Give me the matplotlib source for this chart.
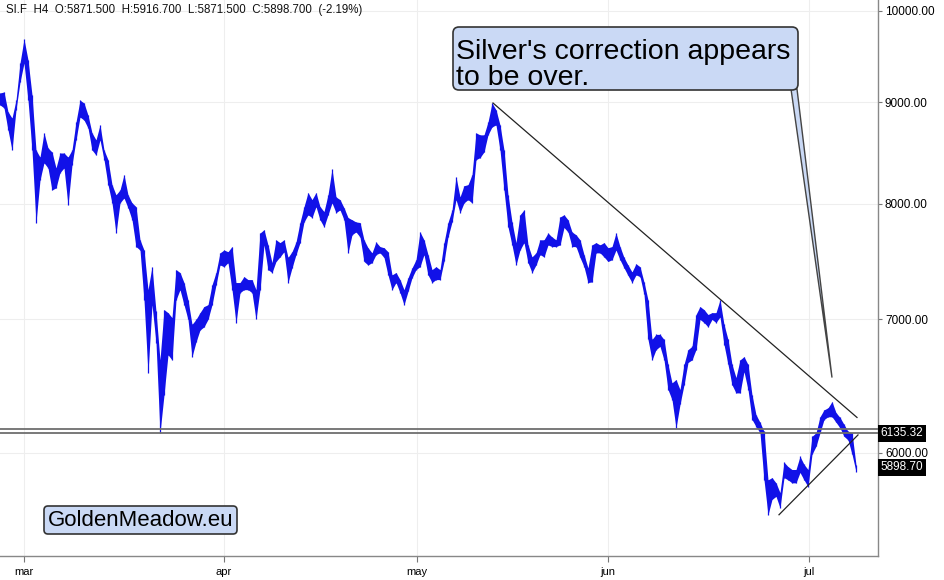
import matplotlib
matplotlib.use("Agg")
import matplotlib.pyplot as plt
import numpy as np
from matplotlib.patches import FancyBboxPatch, Polygon
from matplotlib.ticker import FixedLocator, FuncFormatter, NullLocator
from matplotlib.transforms import IdentityTransform

plt.rcParams["font.family"] = ["Liberation Sans", "DejaVu Sans"]

W, H = 945, 580

HEADER = "SI.F  H4  O:5871.500  H:5916.700  L:5871.500  C:5898.700  (-2.19%)"

# ─── PRICE DATA (one sample per ~2.5 bars of 4H) ─────────────────────────────
BAR_HI = [
    9095, 9105, 8900, 8835, 9020, 9415, 9680, 9450, 9075, 8515,
    8445, 8685, 8535, 8495, 8340, 8485, 8485, 8445, 8515, 8795,
    9020, 8990, 8865, 8685, 8615, 8765, 8515, 8420, 8180, 8085,
    8130, 8275, 8085, 8010, 7975, 7675, 7585, 7245, 7440, 7065,
    6680, 7080, 7055, 7015, 7415, 7390, 7305, 7160, 6960, 7000,
    7055, 7105, 7120, 7285, 7390, 7560, 7585, 7570, 7615, 7305,
    7305, 7355, 7330, 7330, 7245, 7735, 7765, 7630, 7475, 7675,
    7650, 7675, 7520, 7570, 7655, 7830, 7975, 8105, 8040, 8105,
    7975, 7930, 8085, 8330, 8065, 8040, 7965, 7875, 7855, 7835,
    7830, 7675, 7605, 7560, 7655, 7615, 7605, 7570, 7370, 7390,
    7330, 7245, 7345, 7430, 7500, 7745, 7675, 7545, 7415, 7440,
    7415, 7650, 7830, 7945, 8255, 8065, 8170, 8180, 8275, 8685,
    8665, 8665, 8795, 8990, 8920, 8765, 8515, 8085, 7835, 7650,
    7900, 7945, 7630, 7525, 7560, 7675, 7675, 7735, 7700, 7675,
    7880, 7900, 7855, 7745, 7720, 7675, 7545, 7430, 7630, 7650,
    7630, 7650, 7605, 7615, 7735, 7615, 7520, 7455, 7395, 7465,
    7440, 7310, 7160, 6840, 6880, 6880, 6840, 6645, 6505, 6530,
    6455, 6645, 6760, 6785, 7040, 7105, 7080, 7040, 7055, 7055,
    7160, 6960, 6840, 6645, 6545, 6680, 6705, 6645, 6415, 6270,
    6215, 6150, 5815, 5830, 5795, 5730, 5935, 5905, 5885, 5885,
    5975, 5920, 5885, 6115, 6140, 6255, 6305, 6320, 6365, 6285,
    6250, 6200, 6150, 6140, 5917,
]
BAR_LO = [
    8970, 8940, 8715, 8515, 8920, 9210, 9415, 9020, 8515, 7830,
    8225, 8390, 8340, 8130, 8150, 8295, 8340, 7990, 8370, 8615,
    8845, 8815, 8735, 8515, 8465, 8615, 8420, 8180, 8010, 7735,
    8010, 8055, 7965, 7855, 7615, 7585, 7160, 6580, 7120, 6815,
    6140, 6415, 6720, 6680, 7160, 7245, 7120, 7000, 6705, 6820,
    6915, 6940, 7000, 7120, 7285, 7455, 7440, 7475, 7245, 6975,
    7220, 7245, 7245, 7220, 7000, 7245, 7630, 7415, 7390, 7485,
    7525, 7570, 7305, 7430, 7545, 7650, 7835, 7900, 7875, 7975,
    7855, 7790, 7900, 8010, 7920, 7945, 7855, 7560, 7720, 7745,
    7700, 7485, 7455, 7475, 7545, 7560, 7520, 7370, 7245, 7305,
    7220, 7120, 7230, 7345, 7415, 7440, 7545, 7370, 7305, 7330,
    7330, 7485, 7700, 7835, 8040, 7920, 8010, 8040, 8010, 8420,
    8440, 8495, 8665, 8745, 8765, 8515, 8130, 7790, 7630, 7455,
    7585, 7650, 7475, 7390, 7455, 7545, 7525, 7630, 7615, 7615,
    7630, 7785, 7745, 7615, 7615, 7520, 7440, 7305, 7310, 7560,
    7560, 7525, 7485, 7500, 7585, 7500, 7430, 7365, 7305, 7370,
    7355, 7205, 6840, 6680, 6760, 6785, 6680, 6455, 6380, 6175,
    6345, 6490, 6660, 6680, 6760, 7000, 6975, 6940, 7000, 6975,
    7020, 6800, 6645, 6490, 6430, 6430, 6590, 6455, 6235, 6185,
    6140, 5815, 5585, 5685, 5705, 5630, 5830, 5815, 5795, 5795,
    5865, 5815, 5770, 5990, 6045, 6140, 6235, 6255, 6255, 6215,
    6175, 6115, 6090, 5990, 5871,
]

MONTHS = ["mar", "apr", "may", "jun", "jul"]
MONTH_BAR = [5.9, 56, 104.25, 152, 202.25]

Y_TICKS = [6000, 7000, 8000, 9000, 10000]
SUPPORT = [6170.0, 6135.32]
LAST_CLOSE = 5898.70

# hand-drawn trend lines (bar index, price)
DOWN_TREND = ([123.25, 214.25], [8990, 6250])
UP_TREND = ([194.75, 214.5], [5585, 6125])
CALLOUT_TARGET = (208, 6545)

BLUE = "#1111e8"
BOX_FILL = "#cad9f5"

bars = np.arange(len(BAR_HI))

fig = plt.figure(figsize=(W / 100, H / 100), dpi=100)
fig.patch.set_facecolor("white")
ax = fig.add_axes([0.0, 1 - 556 / H, 878 / W, 556 / H])
ax.set_facecolor("white")

ax.set_yscale("log")
ax.set_ylim(5325, 10127)
ax.set_xlim(0, 219.5)

# grid
ax.yaxis.set_major_locator(FixedLocator(Y_TICKS))
ax.yaxis.set_minor_locator(NullLocator())
ax.yaxis.set_major_formatter(FuncFormatter(lambda v, p: f"{v:.2f}"))
ax.xaxis.set_major_locator(FixedLocator(MONTH_BAR))
ax.set_xticklabels(MONTHS)
ax.grid(True, color="#eeeeee", lw=0.8, zorder=0)

# price bars
ax.fill_between(bars, BAR_LO, BAR_HI, color=BLUE, lw=0, zorder=3)
ax.vlines(bars, BAR_LO, BAR_HI, color=BLUE, lw=0.9, zorder=3)

# support levels
for lvl in SUPPORT:
    ax.axhline(lvl, color="#6e6e6e", lw=1.3, zorder=4)

# trend lines
ax.plot(*DOWN_TREND, color="#222222", lw=0.9, zorder=5)
ax.plot(*UP_TREND, color="#222222", lw=0.9, zorder=5)

# axis styling
for side in ("left", "top"):
    ax.spines[side].set_visible(False)
for side in ("right", "bottom"):
    ax.spines[side].set_color("#888888")
    ax.spines[side].set_linewidth(1.0)
ax.yaxis.tick_right()
ax.tick_params(axis="y", labelsize=8.5, length=3, pad=2, color="#777777")
ax.tick_params(axis="x", labelsize=8, length=4, pad=4, color="#777777")

# price flags on the right axis
for val in (SUPPORT[1], LAST_CLOSE):
    ax.text(1.003, val, f"{val:.2f}", transform=ax.get_yaxis_transform(),
            ha="left", va="center", fontsize=8.5, color="white", zorder=10,
            bbox=dict(boxstyle="square,pad=0.2", fc="black", ec="none"),
            clip_on=False)

# header
fig.text(6 / W, 1 - 10 / H, HEADER, ha="left", va="center", fontsize=8.3, color="#111111")

# callout box
px = IdentityTransform()
fig.patches.append(FancyBboxPatch((453, H - 90), 345, 63,
                                  boxstyle="round,pad=0,rounding_size=6",
                                  fc=BOX_FILL, ec="#333333", lw=1.2,
                                  transform=px, figure=fig, zorder=20))
tx, ty = ax.transData.transform(CALLOUT_TARGET)
fig.patches.append(Polygon([(791, H - 89), (797, H - 89), (tx, ty)], closed=True,
                           fc=BOX_FILL, ec="#444444", lw=1.0,
                           transform=px, figure=fig, zorder=19))
fig.text(456, H - 59, "Silver's correction appears", transform=px,
         fontsize=20.5, va="baseline", ha="left", color="black", zorder=21)
fig.text(456, H - 85, "to be over.", transform=px,
         fontsize=20.5, va="baseline", ha="left", color="black", zorder=21)

# logo box
fig.patches.append(FancyBboxPatch((44, H - 534), 193, 28,
                                  boxstyle="round,pad=0,rounding_size=4",
                                  fc=BOX_FILL, ec="#333333", lw=1.2,
                                  transform=px, figure=fig, zorder=20))
fig.text(140.5, H - 520, "GoldenMeadow.eu", transform=px,
         fontsize=16, va="center", ha="center", color="black", zorder=21)

fig.savefig("out.png", dpi=100, facecolor="white")
